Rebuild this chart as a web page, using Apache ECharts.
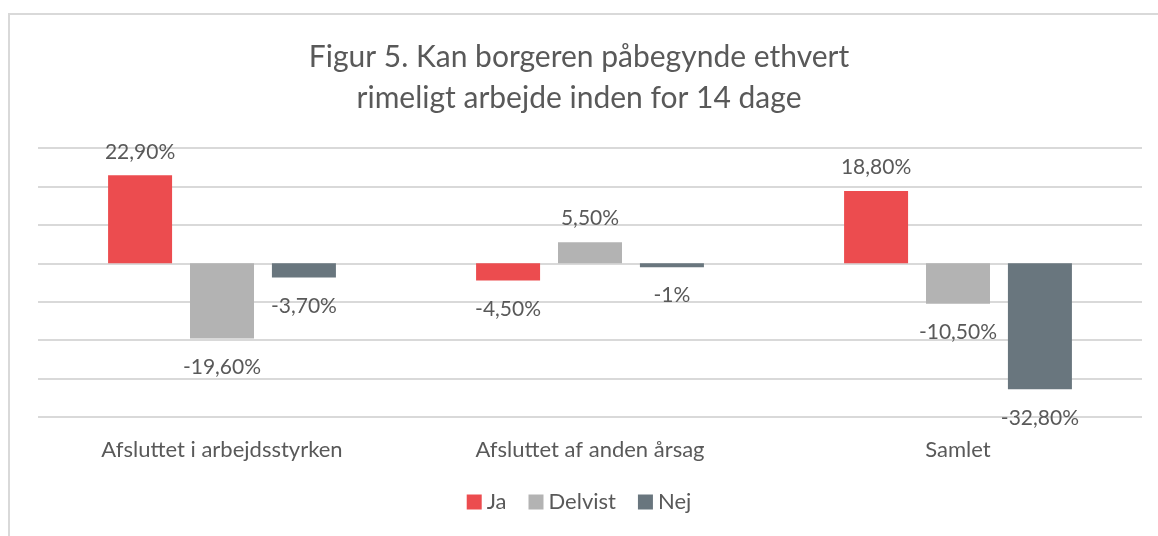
<!DOCTYPE html>
<html>
<head>
<meta charset="utf-8">
<script src="https://cdn.jsdelivr.net/npm/echarts@6/dist/echarts.min.js"></script>
<style>
    html, body { margin: 0; padding: 0; background: #fff; }
    #chart { width: 1158px; height: 536px; }
</style>
</head>
<body>
<div id="chart"></div>
<script>
var categories = ['Afsluttet i arbejdsstyrken', 'Afsluttet af anden årsag', 'Samlet'];
var ja = [22.9, -4.5, 18.8];
var delvist = [-19.6, 5.5, -10.5];
var nej = [-3.7, -1, -32.8];

var textColor = '#595959';
var fontFamily = '"Source Sans Pro", Lato, "Noto Sans", sans-serif';

function fmt(v) {
    if (Number.isInteger(v)) {
        return v + '%';
    }
    return v.toFixed(2).replace('.', ',') + '%';
}

function makeSeries(name, data, color) {
    return {
        name: name,
        type: 'bar',
        barWidth: 64,
        barGap: '28%',
        data: data.map(function (v) {
            return {
                value: v,
                label: {
                    position: v >= 0 ? 'top' : 'bottom',
                    distance: v >= 0 ? 13 : 18
                }
            };
        }),
        itemStyle: { color: color },
        label: {
            show: true,
            color: textColor,
            fontSize: 21,
            fontFamily: fontFamily,
            formatter: function (p) { return fmt(p.value); }
        },
        animation: false
    };
}

var chart = echarts.init(document.getElementById('chart'));
chart.setOption({
    backgroundColor: '#fff',
    textStyle: { fontFamily: fontFamily },
    graphic: [{
        type: 'rect',
        shape: { x: 9, y: 14, width: 1300, height: 700 },
        style: { fill: 'none', stroke: '#d9d9d9', lineWidth: 2 },
        silent: true
    }],
    title: {
        text: 'Figur 5. Kan borgeren påbegynde ethvert\nrimeligt arbejde inden for 14 dage',
        left: 'center',
        top: 32,
        textStyle: {
            color: textColor,
            fontSize: 30,
            fontWeight: 'normal',
            lineHeight: 41,
            fontFamily: fontFamily
        }
    },
    legend: {
        bottom: 18,
        left: 'center',
        itemWidth: 15,
        itemHeight: 15,
        itemGap: 22,
        icon: 'rect',
        textStyle: { color: textColor, fontSize: 22, fontFamily: fontFamily },
        data: ['Ja', 'Delvist', 'Nej']
    },
    grid: {
        left: 38,
        right: 16,
        top: 148,
        bottom: 119
    },
    xAxis: {
        type: 'category',
        data: categories,
        position: 'bottom',
        axisLine: { show: false },
        axisTick: { show: false },
        axisLabel: {
            color: textColor,
            fontSize: 22,
            margin: 22,
            fontFamily: fontFamily
        }
    },
    yAxis: {
        type: 'value',
        min: -40,
        max: 30,
        interval: 10,
        axisLabel: { show: false },
        axisLine: { show: false },
        axisTick: { show: false },
        splitLine: { lineStyle: { color: '#d9d9d9', width: 2 } }
    },
    series: [
        makeSeries('Ja', ja, '#ec4c4f'),
        makeSeries('Delvist', delvist, '#b3b3b3'),
        makeSeries('Nej', nej, '#69767e')
    ]
});
</script>
</body>
</html>
